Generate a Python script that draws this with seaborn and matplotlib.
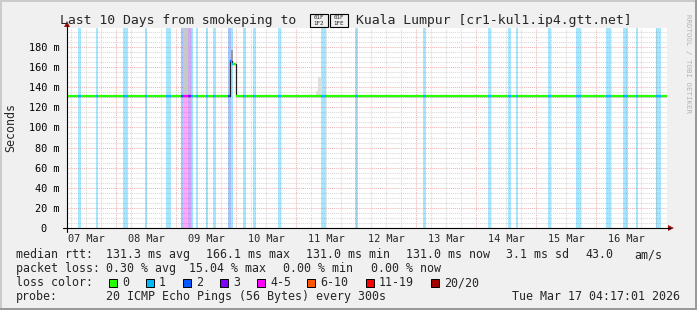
import numpy as np
import pandas as pd
import matplotlib
matplotlib.use("Agg")
import matplotlib.pyplot as plt
import matplotlib.dates as mdates
from matplotlib.patches import Rectangle, Polygon
from matplotlib.lines import Line2D
import seaborn as sns

# ---------------- data ----------------
start_time = "2026-03-07 04:17:01"
end_time = "2026-03-17 04:17:01"

title_left = "Last 10 Days from smokeping to"
# the flag (regional indicators U+1F1F2 U+1F1FE) has no glyph in any installed font:
# drawn as the "missing glyph" hex boxes the reference shows
title_flag_codes = ["01F\n1F2", "01F\n1FE"]
title_right = "Kuala Lumpur [cr1-kul1.ip4.gtt.net]"

loss_labels = ["0", "1", "2", "3", "4-5", "6-10", "11-19", "20/20"]
loss_colors = ["#26ff00", "#00b8ff", "#0059ff", "#7e00ff", "#ff00ff", "#ff5500", "#ff0000", "#a10000"]

# periods with packet loss (loss colour index)
band_start = ["2026-03-07 08:40", "2026-03-07 15:55", "2026-03-08 02:40", "2026-03-08 11:30",
              "2026-03-08 19:55", "2026-03-09 01:55", "2026-03-09 02:50", "2026-03-09 04:35",
              "2026-03-09 05:55", "2026-03-09 07:55", "2026-03-09 11:55", "2026-03-09 14:40",
              "2026-03-09 20:40", "2026-03-09 21:55", "2026-03-10 02:40", "2026-03-10 06:40",
              "2026-03-10 16:40", "2026-03-11 09:55", "2026-03-11 23:20", "2026-03-13 02:40",
              "2026-03-14 04:40", "2026-03-14 12:40", "2026-03-14 15:55", "2026-03-15 04:40",
              "2026-03-15 15:55", "2026-03-16 03:55", "2026-03-16 10:40", "2026-03-16 15:55",
              "2026-03-16 23:55"]
band_end = ["2026-03-07 09:55", "2026-03-07 16:40", "2026-03-08 04:40", "2026-03-08 12:15",
            "2026-03-08 21:55", "2026-03-09 02:50", "2026-03-09 04:35", "2026-03-09 05:55",
            "2026-03-09 06:50", "2026-03-09 08:40", "2026-03-09 12:40", "2026-03-09 15:55",
            "2026-03-09 21:55", "2026-03-09 22:40", "2026-03-10 03:55", "2026-03-10 07:55",
            "2026-03-10 17:55", "2026-03-11 11:55", "2026-03-12 00:40", "2026-03-13 03:55",
            "2026-03-14 05:55", "2026-03-14 13:55", "2026-03-14 16:40", "2026-03-15 05:55",
            "2026-03-15 17:55", "2026-03-16 05:55", "2026-03-16 12:40", "2026-03-16 16:40",
            "2026-03-17 01:55"]
band_loss = [1, 1, 1, 1, 1, 2, 4, 3, 1, 1, 1, 1, 2, 1, 1, 1, 1, 1, 1, 1, 1, 1, 1, 1, 1, 1, 1, 1, 1]

# median rtt (ms), step changes
median_time = ["2026-03-07 04:17:01", "2026-03-09 01:55", "2026-03-09 05:55", "2026-03-09 21:30",
               "2026-03-09 22:15", "2026-03-09 23:45", "2026-03-17 04:10"]
median_rtt = [131.0, 131.8, 131.0, 166.1, 163.0, 131.0, 131.0]

# smoke (spread of the pings)
smoke_start = ["2026-03-09 02:50", "2026-03-09 04:35", "2026-03-09 21:55", "2026-03-11 07:55", "2026-03-11 08:50"]
smoke_end = ["2026-03-09 04:35", "2026-03-09 05:40", "2026-03-09 22:40", "2026-03-11 08:50", "2026-03-11 10:15"]
smoke_low = [131.8, 131.8, 165.5, 131.0, 131.0]
smoke_high = [215.0, 215.0, 177.0, 136.0, 150.0]
smoke_color = ["#c8c8c8", "#c4b2e4", "#9a9a9a", "#dedede", "#dedede"]

y_ticks = [0, 20, 40, 60, 80, 100, 120, 140, 160, 180]
y_tick_labels = ["0  ", "20 m", "40 m", "60 m", "80 m", "100 m", "120 m", "140 m", "160 m", "180 m"]
y_max = 199.0
day_labels = ["07 Mar", "08 Mar", "09 Mar", "10 Mar", "11 Mar", "12 Mar", "13 Mar", "14 Mar", "15 Mar", "16 Mar"]
day_label_times = ["2026-03-07 12:00", "2026-03-08 12:00", "2026-03-09 12:00", "2026-03-10 12:00",
                   "2026-03-11 12:00", "2026-03-12 12:00", "2026-03-13 12:00", "2026-03-14 12:00",
                   "2026-03-15 12:00", "2026-03-16 12:00"]

stat_median = ["131.3 ms avg", "166.1 ms max", "131.0 ms min", "131.0 ms now", "3.1 ms sd", "43.0", "am/s"]
stat_loss = ["0.30 % avg", "15.04 % max", "0.00 % min", "0.00 % now"]
probe_text = "20 ICMP Echo Pings (56 Bytes) every 300s"
stamp_text = "Tue Mar 17 04:17:01 2026"

# ---------------- style ----------------
sns.set_style("white")
plt.rcParams["font.family"] = ["DejaVu Sans Mono"]
W, H = 697, 310
fig = plt.figure(figsize=(W / 100, H / 100), dpi=100)
fig.patch.set_facecolor("#f0f0f0")


def fx(x):
    return x / W


def fy(y):
    return 1 - y / H


ax = fig.add_axes([fx(67), fy(228), 600 / W, 200 / H])
ax.set_facecolor("white")

t = lambda s: mdates.date2num(pd.Timestamp(s))
t0, t1 = t(start_time), t(end_time)

# loss bands
for s, e, l in zip(band_start, band_end, band_loss):
    ax.axvspan(t(s), t(e), color=loss_colors[l], alpha=0.35, lw=0, zorder=1)

# smoke
for s, e, lo, hi, c in zip(smoke_start, smoke_end, smoke_low, smoke_high, smoke_color):
    ax.fill_between([t(s), t(e)], [lo, lo], [hi, hi], color=c, lw=0, zorder=2)

# black median line (verticals stay black)
mt = [pd.Timestamp(s) for s in median_time]
df = pd.DataFrame({"time": mt, "rtt": median_rtt})
sns.lineplot(data=df, x="time", y="rtt", drawstyle="steps-post", color="#202020",
             lw=0.9, estimator=None, ax=ax, zorder=3)

# coloured median segments by loss
mnum = np.array([t(s) for s in median_time])
edges = set(mnum.tolist())
bs = np.array([t(s) for s in band_start])
be = np.array([t(s) for s in band_end])
edges.update(bs.tolist())
edges.update(be.tolist())
edges = np.array(sorted(e for e in edges if mnum[0] <= e <= mnum[-1]))
for a, b in zip(edges[:-1], edges[1:]):
    mid = 0.5 * (a + b)
    v = median_rtt[max(0, np.searchsorted(mnum, mid, side="right") - 1)]
    idx = np.where((bs <= mid) & (be > mid))[0]
    lvl = band_loss[idx[0]] if len(idx) else 0
    ax.hlines(v, a, b, colors=loss_colors[lvl], lw=1.6, zorder=4)

ax.set_xlim(t0, t1)
ax.set_ylim(0, y_max)
ax.set_xlabel("")
ax.set_ylabel("")
for sp in ax.spines.values():
    sp.set_visible(False)

# grid
ax.xaxis.set_major_locator(mdates.DayLocator())
ax.xaxis.set_minor_locator(mdates.HourLocator(byhour=[6, 12, 18]))
ax.set_yticks(y_ticks)
ax.set_yticklabels(y_tick_labels)
ax.yaxis.set_minor_locator(matplotlib.ticker.MultipleLocator(5))
ax.grid(which="major", color="#eeb4b4", linestyle=(0, (1, 1)), lw=0.75)
ax.grid(which="minor", color="#d8d8d8", linestyle=(0, (1, 1)), lw=0.75)
ax.set_axisbelow(True)
ax.tick_params(axis="x", which="major", labelbottom=False, length=3, color="#d06060", width=0.75)
ax.tick_params(axis="x", which="minor", labelbottom=False, length=2, color="#bbbbbb", width=0.75)
ax.tick_params(axis="y", which="major", length=3, color="#404040", width=0.75, pad=2.5,
               labelsize=7.35, labelcolor="black")
ax.tick_params(axis="y", which="minor", length=0)

sec = ax.secondary_xaxis("bottom")
sec.set_xticks([t(s) for s in day_label_times])
sec.set_xticklabels(day_labels)
sec.tick_params(length=0, pad=4.2, labelsize=7.35)
for sp in sec.spines.values():
    sp.set_visible(False)

# axis lines with arrows
arrow_c = "#a01010"
fig.add_artist(Line2D([fx(67), fx(67)], [fy(232), fy(25)], color="black", lw=0.8))
fig.add_artist(Line2D([fx(63), fx(670)], [fy(228), fy(228)], color="black", lw=0.8))
fig.add_artist(Polygon([[fx(64), fy(27)], [fx(70), fy(27)], [fx(67), fy(21)]], closed=True,
                       color=arrow_c, lw=0))
fig.add_artist(Polygon([[fx(668), fy(225)], [fx(668), fy(231)], [fx(674), fy(228)]], closed=True,
                       color=arrow_c, lw=0))

# frame shading
fig.add_artist(Rectangle((0, fy(2)), 1, 2 / H, color="#cbcbcb", lw=0))
fig.add_artist(Rectangle((0, 0), 2 / W, 1, color="#cbcbcb", lw=0))
fig.add_artist(Rectangle((0, 0), 1, 2 / H, color="#999999", lw=0))
fig.add_artist(Rectangle((fx(695), 0), 2 / W, 1, color="#999999", lw=0))

# title
fig.text(fx(60), fy(24), title_left, fontsize=9.45, va="baseline", ha="left")
for xl, code in zip([310, 330], title_flag_codes):
    fig.add_artist(Rectangle((fx(xl), fy(27)), 18 / W, 13 / H, facecolor="none",
                             edgecolor="black", lw=0.8))
    fig.text(fx(xl + 9), fy(20.5), code, fontsize=4.2, ha="center", va="center",
             linespacing=1.05)
fig.text(fx(356), fy(24), title_right, fontsize=9.45, va="baseline", ha="left")

fig.text(fx(10.5), fy(128), "Seconds", rotation=90, fontsize=8.4, ha="center", va="center")
fig.text(fx(688), fy(63), "RRDTOOL / TOBI OETIKER", rotation=270, fontsize=5.3,
         ha="center", va="center", color="#b4b4b4")

# legend
LF = 8.4
fig.text(fx(16), fy(258), "median rtt:", fontsize=LF, va="baseline")
for x, s in zip([106, 206, 306, 406, 506, 585, 634], stat_median):
    fig.text(fx(x), fy(258), s, fontsize=LF, va="baseline")
fig.text(fx(16), fy(272), "packet loss:", fontsize=LF, va="baseline")
for x, s in zip([106, 189, 283, 371], stat_loss):
    fig.text(fx(x), fy(272), s, fontsize=LF, va="baseline")
fig.text(fx(16), fy(286), "loss color:", fontsize=LF, va="baseline")
for x, lab, c in zip([109, 146, 183, 220, 257, 307, 366, 431], loss_labels, loss_colors):
    fig.add_artist(Rectangle((fx(x), fy(287)), 8 / W, 8 / H, facecolor=c, edgecolor="black", lw=0.7))
    fig.text(fx(x + 13), fy(286), lab, fontsize=LF, va="baseline")
fig.text(fx(16), fy(300), "probe:", fontsize=LF, va="baseline")
fig.text(fx(106), fy(300), probe_text, fontsize=LF, va="baseline")
fig.text(fx(680), fy(300), stamp_text, fontsize=LF, va="baseline", ha="right")

fig.savefig("out.png", dpi=100, facecolor=fig.get_facecolor())
